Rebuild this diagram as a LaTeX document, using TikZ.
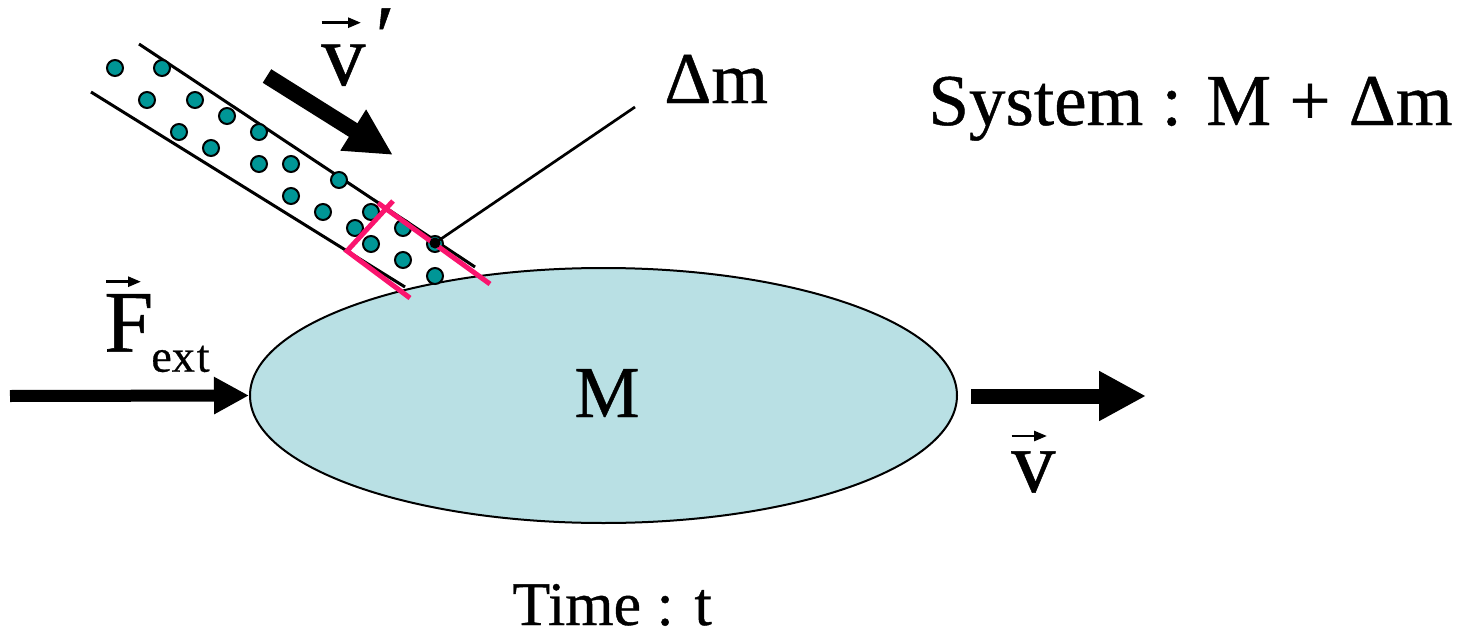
\documentclass[tikz,border=0pt]{standalone}
\usepackage{fontspec}
\setmainfont{Liberation Serif}[FakeBold=0.6]
\usetikzlibrary{shapes.geometric,arrows.meta}
\definecolor{bodyfill}{RGB}{185,224,228}
\definecolor{dotteal}{RGB}{0,150,150}
\definecolor{mag}{RGB}{250,20,110}
\begin{document}
\begin{tikzpicture}[x=0.5pt,y=-0.5pt,
  bigtxt/.style={font=\fontsize{36.5}{40}\selectfont, inner sep=0pt},
  vectxt/.style={font=\fontsize{44}{48}\selectfont, inner sep=0pt},
  timetxt/.style={font=\fontsize{31}{35}\selectfont, inner sep=0pt},
  subtxt/.style={font=\fontsize{23}{27}\selectfont, inner sep=0pt},
  mdot/.style={circle, draw=black, line width=1pt, fill=dotteal, minimum size=8pt, inner sep=0pt},
  tubeline/.style={line width=1.5pt},
  magline/.style={draw=mag, line width=2.5pt},
  vecarrow/.style={line width=1.35pt, -{Triangle[length=6.5pt,width=5pt]}},
]
\useasboundingbox (0,0) rectangle (1474,637);

% body
\node[ellipse, draw, line width=1pt, fill=bodyfill, minimum width=353.5pt, minimum height=127.5pt, inner sep=0pt] (body) at (603.5,395.5) {};
\node[bigtxt, anchor=base] (mlab) at (607,417) {M};

% tube
\coordinate (ua) at (139,44);
\coordinate (ub) at (475,267);
\coordinate (la) at (91,92);
\coordinate (lb) at (405,287);
\draw[tubeline] (ua) -- (ub);
\draw[tubeline] (la) -- (lb);

% particles
\foreach \x/\y [count=\i] in {115/68, 162/68, 147/100, 195/100, 227/116, 179/132, 259/132, 211/148, 259/164, 291/164, 339/180, 291/196, 323/212, 371/212, 355/228, 403/228, 371/244, 435/244, 403/260, 435/276}
  \node[mdot] (d\i) at (\x,\y) {};

% magenta bracket
\coordinate (m1) at (378,203);
\coordinate (m2) at (490,284);
\coordinate (m3) at (393,201);
\coordinate (m4) at (347,251);
\coordinate (m5) at (410,298);
\draw[magline] (m1) -- (m2);
\draw[magline] (m3) -- (m4) -- (m5);

% delta m pointer
\node[circle, fill=black, minimum size=5.5pt, inner sep=0pt] (tip) at (435,243) {};
\coordinate (ptr) at (635,107);
\draw[line width=1.35pt] (tip.center) -- (ptr);
\node[bigtxt, anchor=base west] (dmlab) at (664,103) {Δm};

% system label
\node[bigtxt, anchor=base west] (syslab) at (928,125) {System : M + Δm};

% time label
\node[timetxt, anchor=base west] (timelab) at (512,625) {Time : t};

% incoming velocity arrow
\coordinate (vpa) at (267,76);
\coordinate (vpb) at (393,155);
\draw[line width=8pt, -{Triangle[length=23.5pt,width=22.5pt]}] (vpa) -- (vpb);
\node[vectxt, anchor=base west] (vplab) at (321,85) {v};
\node[vectxt, anchor=base west] (prime) at (375,66) {′};
\coordinate (vpva) at (321.5,22.7);
\coordinate (vpvb) at (361,22.7);
\draw[vecarrow] (vpva) -- (vpvb);

% external force
\coordinate (fstart) at (10,396);
\draw[line width=6pt, -{Triangle[length=17.5pt,width=17.5pt]}] (fstart) -- (body.west);
\node[vectxt, anchor=base west] (flab) at (104,351.7) {F};
\node[subtxt, anchor=base west] (fsub) at (151,371.7) {ex\kern1pt t};
\coordinate (fva) at (106,281.7);
\coordinate (fvb) at (141,281.7);
\draw[vecarrow] (fva) -- (fvb);

% outgoing velocity
\coordinate (va) at (971,396);
\coordinate (vb) at (1146,396);
\draw[line width=7.5pt, -{Triangle[length=23.5pt,width=23.5pt]}] (va) -- (vb);
\node[vectxt, anchor=base west] (vlab) at (1011,491.7) {v};
\coordinate (vva) at (1011.7,436);
\coordinate (vvb) at (1047,436);
\draw[vecarrow] (vva) -- (vvb);
\end{tikzpicture}
\end{document}
